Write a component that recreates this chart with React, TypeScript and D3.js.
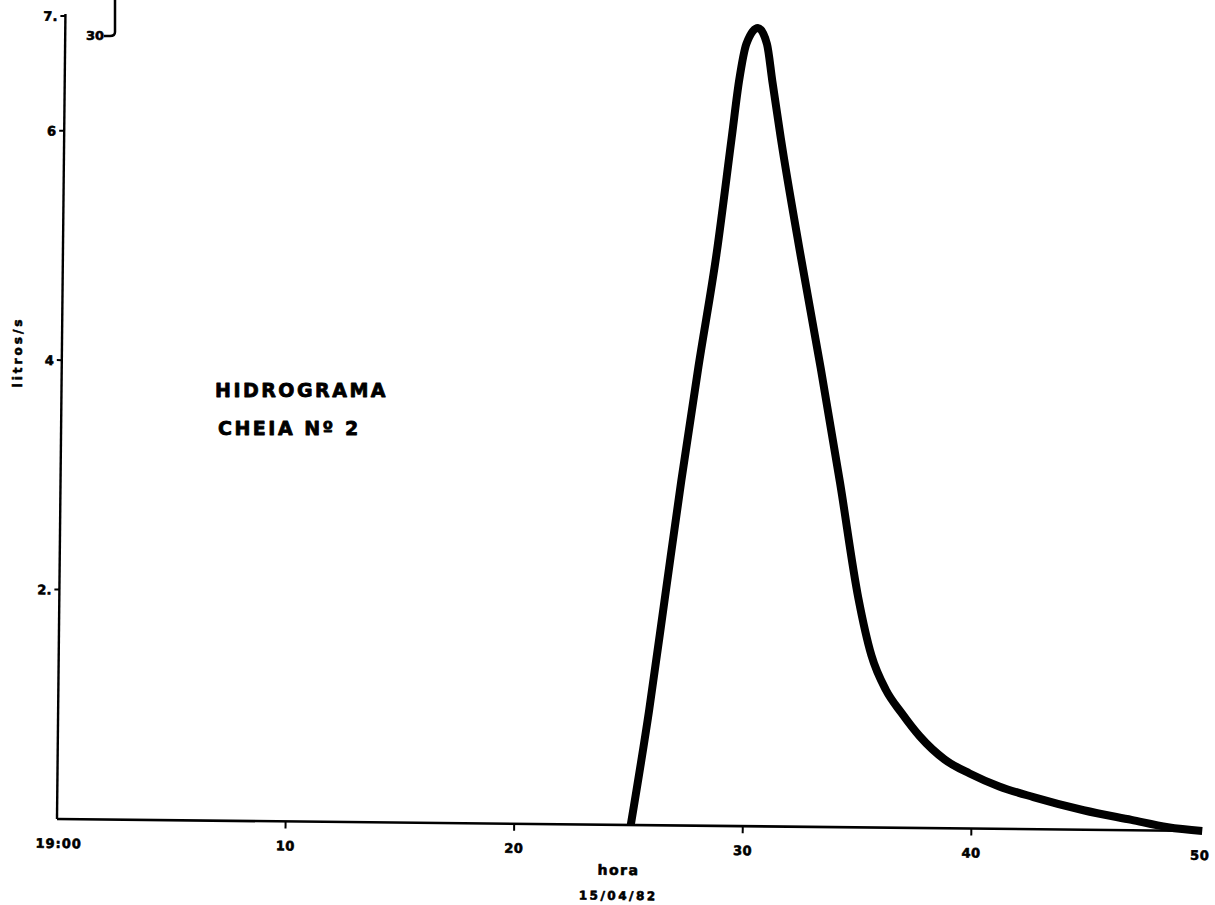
import React, { useEffect, useRef } from "react";
import * as d3 from "d3";

// hours after 19:00 on 15/04/82
const hours = [25.1, 25.85, 26.5, 27.15, 27.85, 28.6, 29.2, 29.5, 29.8, 30.3, 30.7, 30.95, 31.35, 32.25, 33.2, 34.1, 34.95, 35.55, 36.2, 36.9, 37.7, 38.8, 39.9, 41.2, 42.7, 44.9, 47.0, 48.6, 50.1];
const flow = [0, 1, 2, 3, 4, 5, 6, 6.5, 6.82, 6.96, 6.82, 6.5, 6.0, 5.0, 4.0, 3.0, 2.0, 1.5, 1.2, 1.0, 0.8, 0.6, 0.48, 0.37, 0.28, 0.17, 0.09, 0.03, 0];

const xTicks = [0, 10, 20, 30, 40, 50];
const xTickLabels = ["19:00", "10", "20", "30", "40", "50"];
const yTicks = [7, 6, 4, 2];
const yTickLabels = ["7.", "6", "4", "2."];

const titleLines = ["HIDROGRAMA", "CHEIA Nº 2"];
const xLabel = "hora";
const xDate = "15/04/82";
const yLabel = "litros/s";

const W = 1215;
const H = 905;
const ox = 57;
const oy = 819;

export default function App() {
  const ref = useRef<SVGSVGElement | null>(null);

  useEffect(() => {
    const svg = d3.select(ref.current);
    svg.selectAll("*").remove();
    const font = "'DejaVu Sans', Verdana, sans-serif";
    const ink = (sel: any, w = 0.6) =>
      sel.attr("fill", "#000").attr("stroke", "#000").attr("stroke-width", w)
        .attr("stroke-linejoin", "round");

    const x = d3.scaleLinear().domain([0, 50]).range([0, 1143]);
    const y = d3.scaleLinear().domain([0, 7]).range([0, -803]);

    // scanned fragment of neighbouring figure
    svg.append("path")
      .attr("d", "M115,0 L115,32 Q115,36 110,36 L104,36")
      .attr("fill", "none").attr("stroke", "#000").attr("stroke-width", 2.5);
    ink(svg.append("text").attr("x", 86).attr("y", 40).text("30")
      .attr("font-family", font).attr("font-weight", "bold").attr("font-size", 13));

    const g = svg.append("g").attr("transform", `translate(${ox},${oy}) rotate(0.6)`);

    // axes
    g.append("line").attr("x1", 0).attr("y1", 0).attr("x2", x(50)).attr("y2", 0)
      .attr("stroke", "#000").attr("stroke-width", 2.6);
    g.append("line").attr("x1", 0).attr("y1", 0).attr("x2", 0).attr("y2", y(7) - 2)
      .attr("stroke", "#000").attr("stroke-width", 2.4);

    // x ticks
    xTicks.forEach((t, i) => {
      if (i > 0 && i < xTicks.length - 1) {
        g.append("line").attr("x1", x(t)).attr("x2", x(t)).attr("y1", 0).attr("y2", 7)
          .attr("stroke", "#000").attr("stroke-width", 2);
      }
      ink(g.append("text").attr("x", x(t) + (i === 0 ? 2 : 0)).attr("y", 29)
        .attr("text-anchor", "middle").attr("font-family", font).attr("font-weight", "bold")
        .attr("font-size", 13).attr("letter-spacing", i === 0 ? 1 : 0.5).text(xTickLabels[i]));
    });

    // y ticks
    yTicks.forEach((t, i) => {
      g.append("line").attr("x1", -5).attr("x2", 0).attr("y1", y(t)).attr("y2", y(t))
        .attr("stroke", "#000").attr("stroke-width", 2);
      ink(g.append("text").attr("x", -8).attr("y", y(t) + 5)
        .attr("text-anchor", "end").attr("font-family", font).attr("font-weight", "bold")
        .attr("font-size", 13).text(yTickLabels[i]));
    });

    // axis labels
    ink(g.append("text").attr("x", 562).attr("y", 50).attr("text-anchor", "middle")
      .attr("font-family", font).attr("font-weight", "bold").attr("font-size", 14)
      .attr("letter-spacing", 1.5).text(xLabel));
    ink(g.append("text").attr("x", 562).attr("y", 75).attr("text-anchor", "middle")
      .attr("font-family", font).attr("font-weight", "bold").attr("font-size", 12)
      .attr("letter-spacing", 2.5).text(xDate));

    // hydrograph line
    const data = hours.map((h, i) => [h, flow[i]] as [number, number]);
    const line = d3.line<[number, number]>()
      .x((d) => x(d[0])).y((d) => y(d[1]))
      .curve(d3.curveMonotoneX);
    g.append("path").datum(data).attr("d", line)
      .attr("fill", "none").attr("stroke", "#000").attr("stroke-width", 8)
      .attr("stroke-linejoin", "round").attr("stroke-linecap", "butt");

    // y label
    ink(svg.append("text").attr("transform", "translate(22,352) rotate(-90)")
      .attr("text-anchor", "middle").attr("font-family", font).attr("font-weight", "bold")
      .attr("font-size", 12).attr("letter-spacing", 3).text(yLabel));

    // title
    titleLines.forEach((s, i) => {
      ink(svg.append("text").attr("x", 215 + i * 3).attr("y", 397 + i * 38)
        .attr("font-family", font).attr("font-weight", "bold").attr("font-size", 19)
        .attr("letter-spacing", 2.5).text(s), 0.8);
    });
  }, []);

  return (
    <div style={{ position: "absolute", left: 0, top: 0, background: "#fff" }}>
      <svg ref={ref} width={W} height={H} style={{ display: "block", background: "#fff" }} />
    </div>
  );
}
